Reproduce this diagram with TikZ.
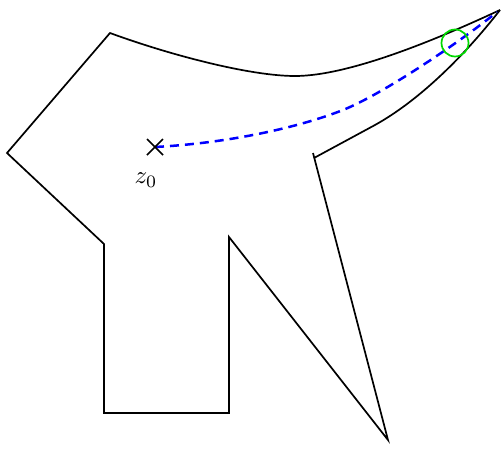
\documentclass[tikz,border=0pt]{standalone}
\usepackage{graphicx}
\usetikzlibrary{calc}
\begin{document}
\begin{tikzpicture}[x=1pt,y=-1pt,
  edge/.style={line width=1.7pt,line join=miter},
  route/.style={blue,line width=2.5pt,dash pattern=on 9pt off 6pt},
  ring/.style={green!85!black,line width=1.7pt}]
\useasboundingbox (0,0) rectangle (504,450);
\coordinate (A) at (110,33);
\coordinate (B) at (7,153);
\coordinate (C) at (104,244);
\coordinate (D) at (104,413);
\coordinate (E) at (229,413);
\coordinate (F) at (229,237);
\coordinate (G) at (388,440);
\coordinate (H) at (313,153);
\coordinate (I) at (314,158);
\coordinate (J) at (375,125);
\coordinate (T) at (500,10);
\coordinate (M) at (295,76);
\coordinate (Z) at (155,147);
\coordinate (P) at (343,110);
\coordinate (Q) at (497,12);
\draw[edge] (T) .. controls (440,38) and (350,76) .. (M) .. controls (250,76) and (170,55) .. (A) -- (B) -- (C) -- (D) -- (E) -- (F) -- (G) -- (H);
\draw[edge] (I) -- (J) .. controls (420,100) and (465,55) .. (T);
\draw[route] (Z) .. controls (230,143) and (300,127) .. (P) .. controls (383,94) and (460,42) .. (Q);
\draw[line width=1.7pt] ($(Z)+(-8,-8)$) -- ($(Z)+(8,8)$) ($(Z)+(-8,8)$) -- ($(Z)+(8,-8)$);
\node[inner sep=0pt] (lab) at (146,180) {\scalebox{2.5}{$z_0$}};
\node[ring,circle,draw,minimum size=27pt,inner sep=0pt] (circ) at (455,43) {};
\end{tikzpicture}
\end{document}
